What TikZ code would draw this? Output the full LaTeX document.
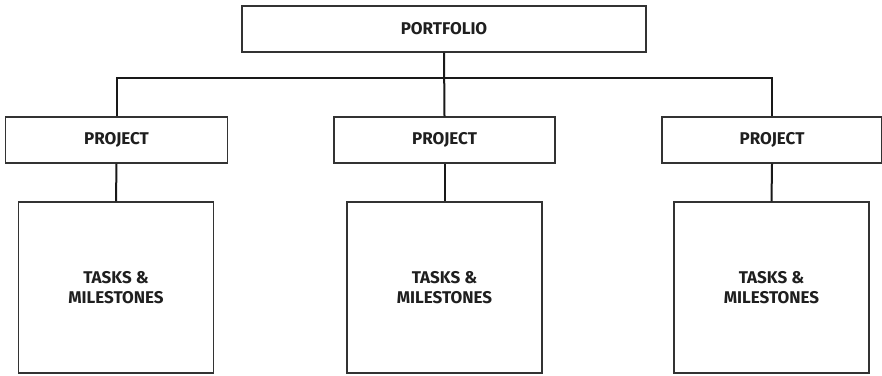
\documentclass[tikz,border=0pt]{standalone}
\usepackage{fontspec}
\setmainfont{Fira Sans}
\begin{document}
\begin{tikzpicture}[x=1pt,y=-1pt,
  box/.style={draw=black!80, line width=1.2pt, fill=white, inner sep=0pt, align=center,
    font=\bfseries\fontsize{17}{20}\selectfont, text=black!88},
  conn/.style={draw=black!90, line width=2pt}]
\useasboundingbox (0,0) rectangle (882,375);
\node[box, minimum width=404pt, minimum height=46pt] (pf) at (444,29) {PORTFOLIO};
\node[box, minimum width=222pt, minimum height=46pt] (p1) at (116.5,140) {PROJECT};
\node[box, minimum width=221pt, minimum height=46pt] (p2) at (444.5,140) {PROJECT};
\node[box, minimum width=220pt, minimum height=46pt] (p3) at (772,140) {PROJECT};
\node[box, minimum width=195pt, minimum height=171pt] (t1) at (116,287.5) {TASKS \&\\MILESTONES};
\node[box, minimum width=195pt, minimum height=171pt] (t2) at (444.5,287.5) {TASKS \&\\MILESTONES};
\node[box, minimum width=195pt, minimum height=171pt] (t3) at (771.5,287.5) {TASKS \&\\MILESTONES};
\coordinate (bus) at (444,78);
\draw[conn] (pf.south) -- (p2.north);
\draw[conn] (p1.north) -- (p1.north |- bus) -- (p3.north |- bus) -- (p3.north);
\draw[conn] (p1.south) -- (t1.north);
\draw[conn] (p2.south) -- (t2.north);
\draw[conn] (p3.south) -- (t3.north);
\end{tikzpicture}
\end{document}
